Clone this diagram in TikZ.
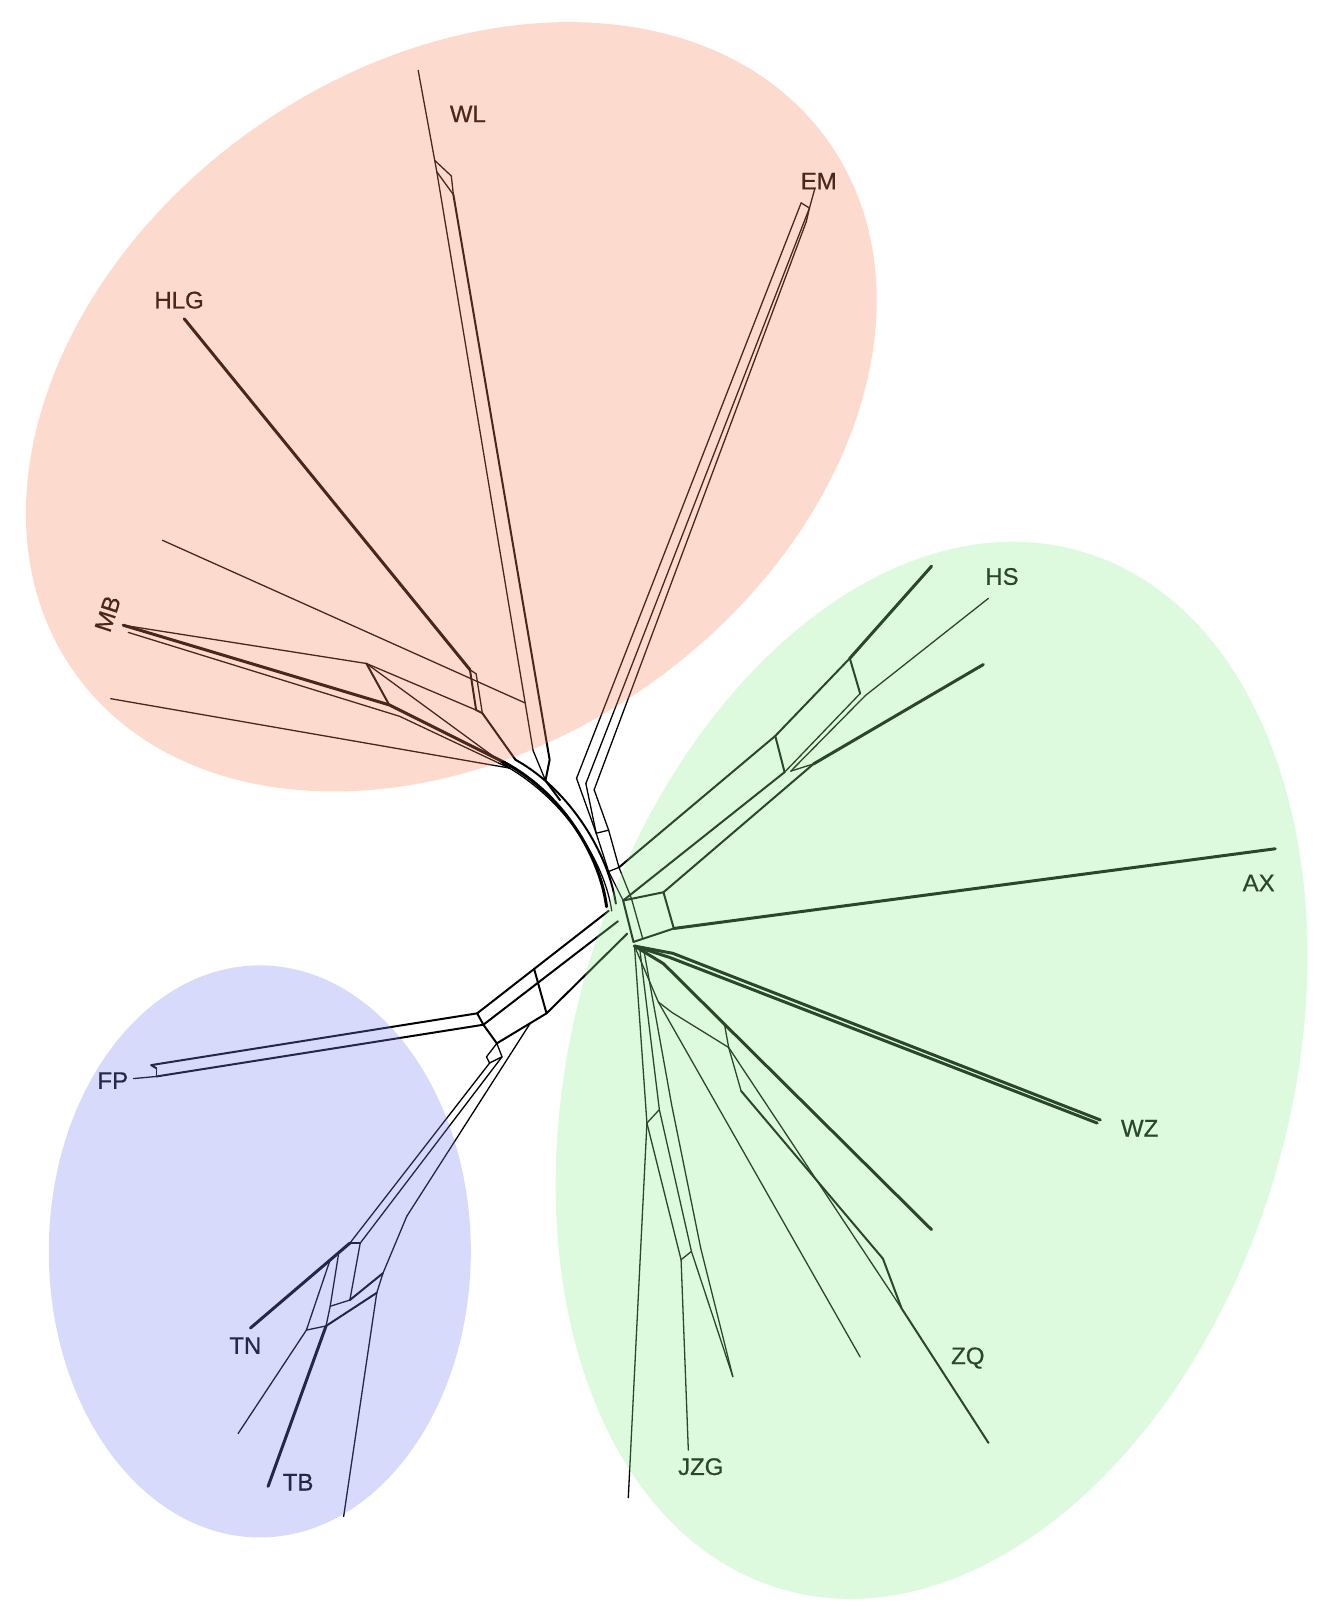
\documentclass[tikz,border=0pt]{standalone}
\usepackage{fontspec}
\setmainfont{Liberation Sans}
\newfontfamily\labfont[FakeBold=0.6]{Liberation Sans}
\definecolor{pinkov}{RGB}{245,132,92}
\definecolor{greenov}{RGB}{145,238,145}
\definecolor{blueov}{RGB}{122,132,238}
\begin{document}
\begin{tikzpicture}[x=1.035pt,y=-1.035pt,
  ln/.style={line width=1.3pt,line join=round,line cap=round,black},
  md/.style={line width=2pt,line join=round,line cap=round,black},
  tk/.style={line width=3pt,line join=round,line cap=round,black},
  lab/.style={font=\labfont\fontsize{24}{28}\selectfont,inner sep=0pt,text=black},
  ov/.style={fill opacity=0.3}]
\useasboundingbox (0,0) rectangle (1285,1568);

% ---------------- pink cluster ----------------
\coordinate (wlT) at (404,68);
\coordinate (wlA) at (420,155);
\coordinate (wlB) at (436,170);
\coordinate (wlC) at (438,188);
\coordinate (wlD) at (422,166);
\coordinate (wlE1) at (515,725);
\coordinate (wlE2) at (531,734);
\coordinate (wlV) at (527,754);
\coordinate (pkM) at (541,773);
\draw[ln] (wlT) -- (wlA) -- (wlB) -- (wlC);
\draw[ln] (wlA) -- (wlD) -- (wlC);
\draw[ln] (wlD) -- (wlE1) -- (wlV);
\draw[md] (wlC) -- (wlE2) -- (wlV) -- (pkM);

\coordinate (emT0) at (787,183);
\coordinate (emT1) at (774,196);
\coordinate (emT2) at (782,201);
\coordinate (emT3) at (779,214);
\coordinate (emB1) at (557,752);
\coordinate (emB2) at (566,757);
\coordinate (emB3) at (574,763);
\draw[ln] (emT0) -- (emT2);
\draw[ln] (emT1) -- (emT2) -- (emT3);
\draw[ln] (emT1) -- (emB1);
\draw[ln] (emT2) -- (emB2);
\draw[ln] (emT3) -- (emB3);
\coordinate (emC1) at (576,805);
\coordinate (emC2) at (588,802);
\coordinate (emD1) at (588,842);
\coordinate (emD2) at (598,838);
\draw[ln] (emB1) -- (emC1) -- (emD1);
\draw[ln] (emB2) -- (emC1);
\draw[ln] (emB3) -- (emC2) -- (emD2);
\draw[ln] (emC1) -- (emC2);
\draw[ln] (emD1) -- (emD2);

\coordinate (hlgT) at (178,308);
\coordinate (hlgM) at (454,647);
\coordinate (hlgN) at (460,651);
\coordinate (hlgP) at (460,686);
\coordinate (hlgQ) at (466,689);
\draw[tk] (hlgT) -- (hlgM);
\draw[ln] (hlgM) -- (hlgN) -- (hlgQ);
\draw[md] (hlgM) -- (hlgP) -- (hlgQ);

\coordinate (pkA) at (488,737);
\coordinate (pkB) at (492,742);
\coordinate (pkC) at (498,734);
\coordinate (mbT) at (119,604);
\coordinate (mbT2) at (124,611);
\coordinate (mv1) at (354,641);
\coordinate (mv2) at (376,681);
\coordinate (mv3) at (386,692);
\draw[tk] (mbT) -- (mv2) -- (pkA);
\draw[ln] (mbT2) -- (mv3) -- (pkB);
\draw[ln] (mbT) -- (mv1);
\draw[md] (mv1) -- (mv2);
\draw[ln] (mv1) -- (hlgP);
\draw[ln] (mv1) -- (pkB);
\draw[md] (hlgQ) -- (pkC);

\coordinate (p157) at (157,522);
\coordinate (p157b) at (507,679);
\draw[ln] (p157) -- (p157b);
\coordinate (p107) at (107,675);
\draw[ln] (p107) -- (pkB);

\coordinate (cA) at (586,876);
\coordinate (cB) at (591,880);
\coordinate (cC) at (595,873);
\draw[tk] (pkA) .. controls (545,768) and (580,828) .. (cA);
\draw[ln] (pkB) .. controls (546,774) and (584,832) .. (cB);
\draw[md] (pkC) .. controls (552,764) and (588,826) .. (cC);

% ---------------- centre ----------------
\coordinate (B1) at (602,870);
\coordinate (B1b) at (610,868);
\coordinate (B2) at (641,862);
\coordinate (B3) at (651,897);
\coordinate (B4) at (612,910);
\coordinate (B4b) at (621,907);
\draw[md] (B1) -- (B2) -- (B3) -- (B4) -- cycle;
\draw[ln] (B1b) -- (B4b);
\draw[ln] (emD1) -- (B1);
\draw[ln] (emD2) -- (B1b);
\coordinate (J) at (613,914);

% ---------------- green cluster ----------------
\coordinate (ga) at (749,711);
\coordinate (gb) at (821,636);
\coordinate (gc) at (758,746);
\coordinate (gc2) at (764,745);
\coordinate (gd) at (831,670);
\coordinate (gd2) at (836,672);
\coordinate (ge) at (786,738);
\coordinate (hsT1) at (900,547);
\coordinate (hsT2) at (955,578);
\coordinate (hsT3) at (950,642);
\draw[md] (emD2) -- (ga) -- (gb);
\draw[tk] (gb) -- (hsT1);
\draw[md] (ga) -- (gc);
\draw[md] (gb) -- (gd);
\draw[ln] (gc) -- (gd);
\draw[ln] (gc2) -- (gd2);
\draw[ln] (gd2) -- (hsT2);
\draw[md] (B1) -- (gc);
\draw[md] (B2) -- (ge);
\draw[ln] (gc2) -- (ge);
\draw[tk] (ge) -- (hsT3);

\coordinate (axT) at (1232,820);
\draw[tk] (B3) -- (axT);

\coordinate (wzA) at (650,921);
\coordinate (wzA2) at (647,925);
\coordinate (wzT) at (1063,1082);
\coordinate (wzT2) at (1060,1085);
\draw[tk] (J) -- (wzA) -- (wzT);
\draw[tk] (J) -- (wzA2) -- (wzT2);

\coordinate (J2) at (618,916);
\coordinate (J3) at (622,918);
\coordinate (k1) at (637,1072);
\coordinate (k2) at (625,1085);
\coordinate (k3) at (668,1209);
\coordinate (k4) at (658,1217);
\coordinate (fA) at (649,1068);
\coordinate (fB) at (677,1206);
\coordinate (longT) at (607,1447);
\coordinate (jzgT) at (665,1401);
\coordinate (tA) at (708,1330);
\draw[ln] (J) -- (k2) -- (longT);
\draw[ln] (J2) -- (k1) -- (k3) -- (tA);
\draw[ln] (k1) -- (k2);
\draw[ln] (k2) -- (k4) -- (jzgT);
\draw[ln] (k3) -- (k4);
\draw[ln] (J3) -- (fA) -- (fB) -- (tA);

\coordinate (m1) at (641,931);
\coordinate (m2) at (700,990);
\coordinate (t900) at (900,1188);
\coordinate (zz1) at (636,968);
\coordinate (zz2) at (649,978);
\coordinate (zz3) at (704,1012);
\coordinate (zz4) at (716,1054);
\coordinate (z1) at (853,1216);
\coordinate (z2) at (871,1264);
\coordinate (zqT) at (955,1394);
\coordinate (t831) at (831,1311);
\draw[tk] (J) -- (m1) -- (t900);
\draw[ln] (m2) -- (zz3) -- (zz4);
\draw[ln] (J) -- (zz1) -- (t831);
\draw[ln] (zz1) -- (zz2) -- (zz3);
\draw[md] (zz4) -- (z1) -- (z2) -- (zqT);
\draw[ln] (zz3) -- (z2);

% ---------------- lower-left band, FP ----------------
\coordinate (U1c) at (588,880);
\coordinate (U2c) at (597,890);
\coordinate (U3c) at (606,902);
\coordinate (bxa) at (461,979);
\coordinate (bxb) at (467,990);
\coordinate (bxc) at (480,1008);
\coordinate (bxd) at (528,979);
\coordinate (bxu) at (516,936);
\coordinate (bxe) at (470,1021);
\coordinate (bxf) at (485,1021);
\coordinate (bxg) at (473,1027);
\coordinate (bxh) at (512,989);
\draw[md] (U1c) -- (bxa);
\draw[md] (U2c) -- (bxb);
\draw[md] (U3c) -- (bxd) -- (bxc);
\draw[md] (bxa) -- (bxb) -- (bxc);
\draw[md] (bxu) -- (bxd);
\draw[ln] (bxc) -- (bxe) -- (bxg) -- (bxf) -- cycle;

\coordinate (fpT1) at (146,1029);
\coordinate (fpT1b) at (151,1032);
\coordinate (fpT2) at (151,1040);
\coordinate (fpL) at (129,1042);
\draw[md] (bxa) -- (fpT1) -- (fpT1b);
\draw[md] (bxb) -- (fpT2);
\draw[ln] (fpT1b) -- (fpT2);
\draw[ln] (fpL) -- (fpT2);

% ---------------- blue cluster ----------------
\coordinate (nA) at (338,1201);
\coordinate (nB) at (348,1201);
\coordinate (nC) at (393,1175);
\coordinate (tnT) at (242,1283);
\coordinate (q1) at (319,1217);
\coordinate (q1b) at (327,1212);
\coordinate (q3) at (338,1256);
\coordinate (q4) at (319,1262);
\coordinate (q5) at (315,1281);
\coordinate (q6) at (296,1285);
\coordinate (r1) at (370,1230);
\coordinate (r2) at (364,1249);
\coordinate (blT) at (332,1465);
\coordinate (tbT) at (259,1436);
\coordinate (t2) at (230,1385);
\draw[ln] (bxg) -- (nA);
\draw[ln] (bxf) -- (nB);
\draw[ln] (bxh) -- (nC);
\draw[tk] (nA) -- (tnT);
\draw[ln] (nA) -- (nB);
\draw[ln] (q1) -- (q6);
\draw[ln] (q1b) -- (q4);
\draw[ln] (nB) -- (q3) -- (q4) -- (q5) -- (q6);
\draw[ln] (nC) -- (r1) -- (r2) -- (blT);
\draw[md] (r1) -- (q3);
\draw[md] (r2) -- (q5);
\draw[tk] (q5) -- (tbT);
\draw[ln] (q6) -- (t2);

% ---------------- labels ----------------
\node[lab] (lWL) at (452,110) {WL};
\node[lab] (lEM) at (791,175) {EM};
\node[lab] (lHLG) at (173,290) {HLG};
\node[lab,rotate=72] (lMB) at (104,593) {MB};
\node[lab] (lHS) at (968,557) {HS};
\node[lab] (lAX) at (1216,853) {AX};
\node[lab] (lWZ) at (1101,1090) {WZ};
\node[lab] (lZQ) at (935,1312) {ZQ};
\node[lab] (lJZG) at (677,1417) {JZG};
\node[lab] (lTN) at (237,1300) {TN};
\node[lab] (lTB) at (288,1432) {TB};
\node[lab] (lFP) at (109,1044) {FP};

% ---------------- tinted cluster ellipses ----------------
\coordinate (pc) at (436,393);
\coordinate (gcen) at (900,1034);
\coordinate (bc) at (251,1209);
\fill[pinkov,ov,rotate around={35:(pc)}] (pc) ellipse [x radius=461pt,y radius=341pt];
\fill[greenov,ov,rotate around={74:(gcen)}] (gcen) ellipse [x radius=540pt,y radius=359pt];
\fill[blueov,ov] (bc) ellipse [x radius=211pt,y radius=286pt];
\end{tikzpicture}
\end{document}
